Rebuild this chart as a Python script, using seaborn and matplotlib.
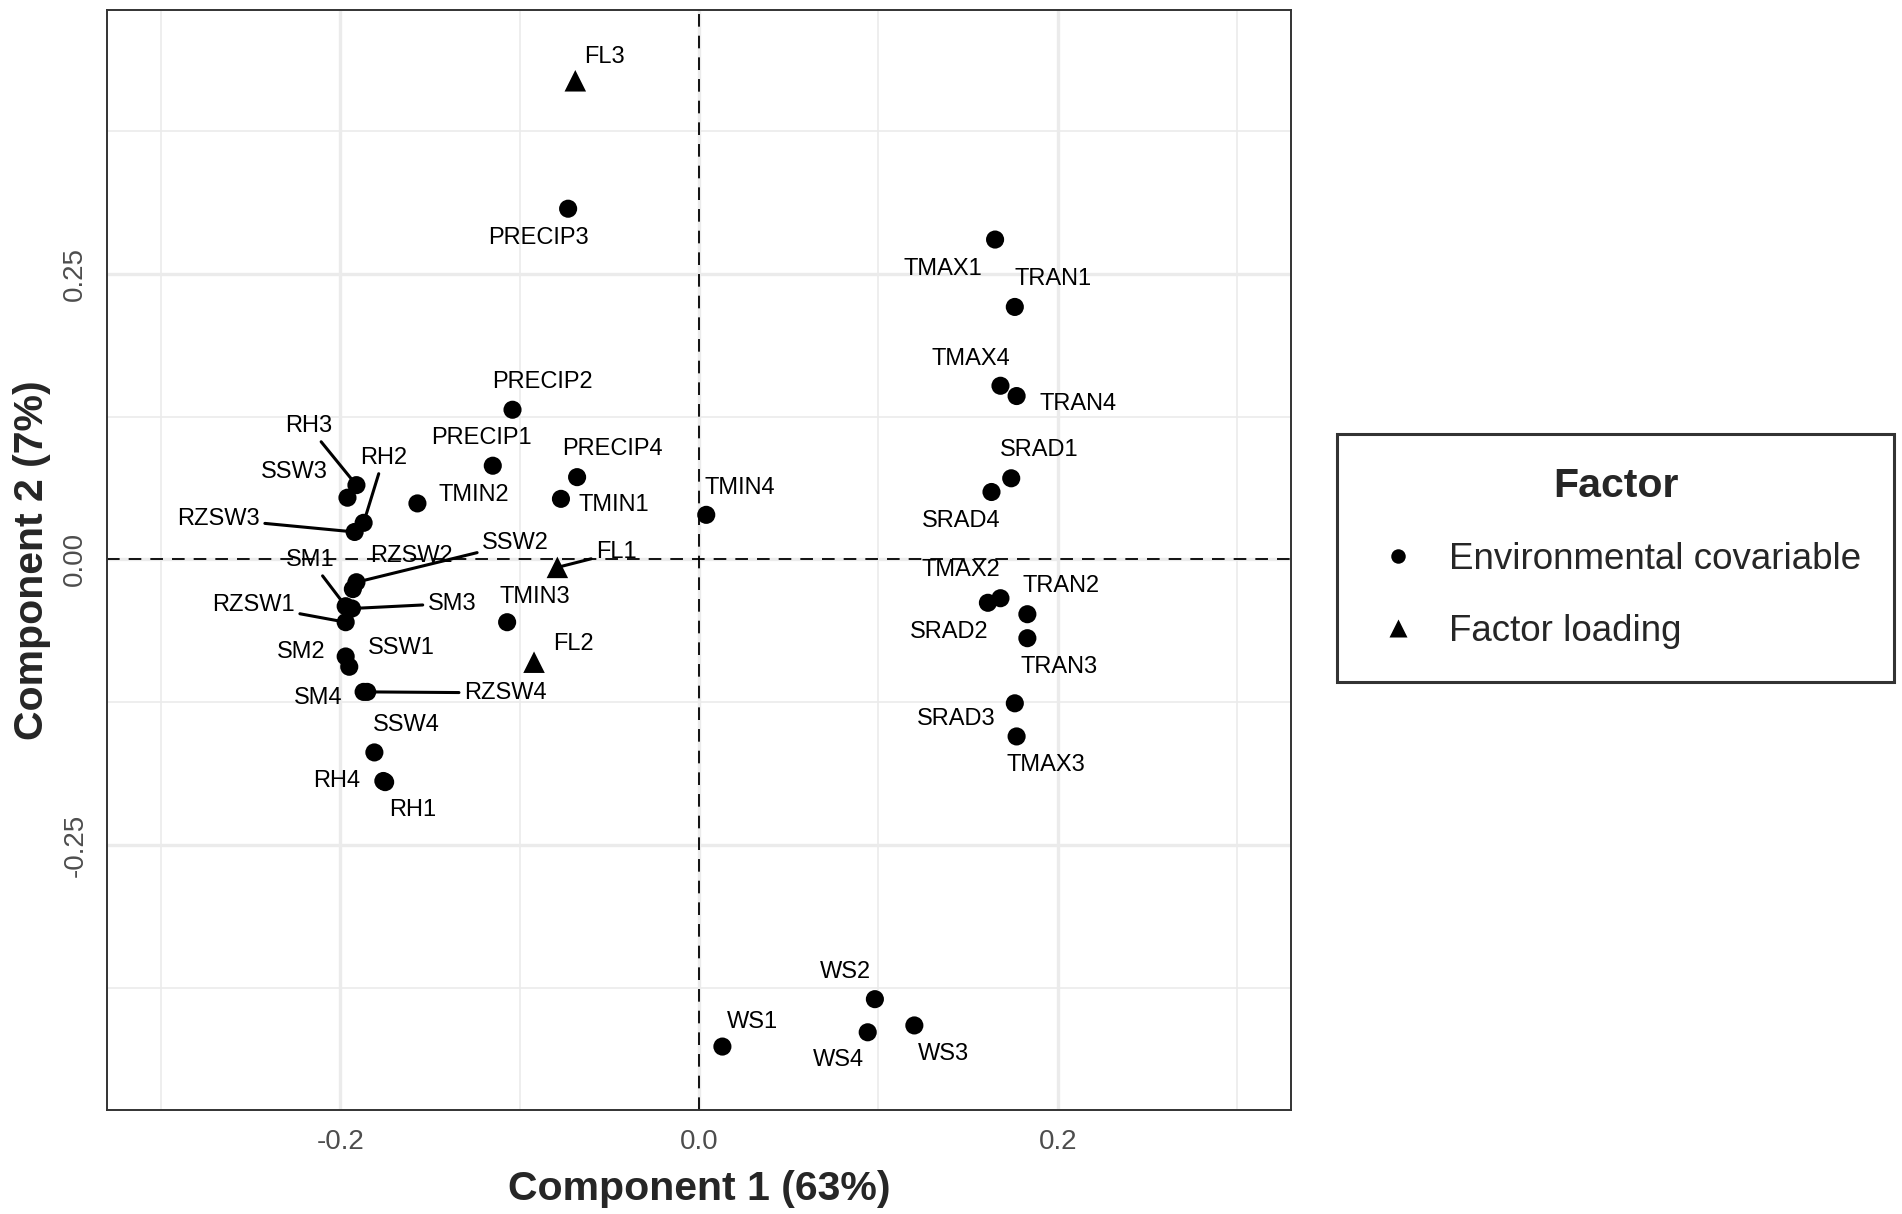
import numpy as np
import pandas as pd
import matplotlib
matplotlib.use("Agg")
import matplotlib.pyplot as plt
import seaborn as sns
from matplotlib.ticker import MultipleLocator, FormatStrFormatter

# loadings
labels = ["FL3", "PRECIP3", "PRECIP2", "PRECIP1", "PRECIP4", "TMIN1", "TMIN2",
          "RH3", "SSW3", "RH2", "RZSW3", "SSW2", "RZSW2", "SM1", "SM3", "RZSW1",
          "SM2", "SSW1", "SM4", "RZSW4", "SSW4", "RH4", "RH1", "TMIN3", "FL2", "FL1",
          "TMIN4", "TMAX1", "TRAN1", "TMAX4", "TRAN4", "SRAD1", "SRAD4", "TMAX2",
          "TRAN2", "SRAD2", "TRAN3", "SRAD3", "TMAX3", "WS2", "WS1", "WS4", "WS3"]
comp1 = [-0.069, -0.073, -0.104, -0.115, -0.068, -0.077, -0.157,
         -0.191, -0.196, -0.187, -0.192, -0.191, -0.193, -0.197, -0.1935, -0.197,
         -0.197, -0.195, -0.187, -0.185, -0.181, -0.176, -0.175, -0.107, -0.092, -0.079,
         0.004, 0.165, 0.176, 0.168, 0.177, 0.174, 0.163, 0.168,
         0.183, 0.161, 0.183, 0.176, 0.177, 0.098, 0.013, 0.094, 0.120]
comp2 = [0.419, 0.307, 0.131, 0.082, 0.072, 0.053, 0.049,
         0.065, 0.054, 0.032, 0.024, -0.020, -0.026, -0.041, -0.043, -0.055,
         -0.085, -0.094, -0.116, -0.116, -0.169, -0.194, -0.195, -0.055, -0.090, -0.007,
         0.039, 0.280, 0.221, 0.152, 0.143, 0.071, 0.059, -0.034,
         -0.048, -0.038, -0.069, -0.126, -0.155, -0.385, -0.4265, -0.414, -0.408]
factor = ["Factor loading"] + ["Environmental covariable"] * 23 + ["Factor loading"] * 2 + \
         ["Environmental covariable"] * 17

df = pd.DataFrame({"label": labels, "comp1": comp1, "comp2": comp2, "Factor": factor})

# label placement (pixel offsets from the point, y pointing down) - layout only
offsets = {
    "FL3": (29, -24), "PRECIP3": (-30, 29), "PRECIP2": (30, -28), "PRECIP1": (-11, -28),
    "PRECIP4": (35, -28), "TMIN1": (53, 6), "TMIN2": (56, -8), "RH3": (-48, -59),
    "SSW3": (-53, -26), "RH2": (20, -65), "RZSW3": (-136, -13), "SSW2": (159, -39),
    "RZSW2": (59, -33), "SM1": (-35, -46), "SM3": (100, -5), "RZSW1": (-92, -17),
    "SM2": (-44, -4), "SSW1": (52, -19), "SM4": (-45, 6), "RZSW4": (138, 1),
    "SSW4": (32, -27), "RH4": (-47, 0), "RH1": (28, 28), "TMIN3": (28, -25),
    "FL2": (39, -18), "FL1": (59, -15), "TMIN4": (34, -27), "TMAX1": (-52, 29),
    "TRAN1": (38, -28), "TMAX4": (-30, -27), "TRAN4": (61, 8), "SRAD1": (28, -28),
    "SRAD4": (-30, 29), "TMAX2": (-40, -28), "TRAN2": (34, -28), "SRAD2": (-39, 29),
    "TRAN3": (32, 29), "SRAD3": (-59, 16), "TMAX3": (29, 29), "WS2": (-29, -27),
    "WS1": (30, -25), "WS4": (-29, 28), "WS3": (29, 29),
}
with_segment = {"RH3", "RH2", "RZSW3", "SSW2", "SM1", "SM3", "RZSW1", "RZSW4", "FL1"}

sns.set_style("white")
plt.rcParams["font.family"] = ["Liberation Sans", "DejaVu Sans"]
plt.rcParams["axes.unicode_minus"] = False

fig = plt.figure(figsize=(19.02, 12.14), dpi=100)
ax = fig.add_axes([0.0563, 0.0857, 0.6225, 0.9061])

ax.axhline(0, color="black", ls=(0, (7, 5)), lw=1.3, zorder=1.5)
ax.axvline(0, color="black", ls=(0, (7, 5)), lw=1.3, zorder=1.5)

order = ["Environmental covariable", "Factor loading"]
sns.scatterplot(data=df, x="comp1", y="comp2", style="Factor", size="Factor",
                style_order=order, size_order=order,
                markers={"Environmental covariable": "o", "Factor loading": "^"},
                sizes={"Environmental covariable": 170, "Factor loading": 240},
                color="black", edgecolor="none", ax=ax, zorder=3)

for lab, x, y in zip(labels, comp1, comp2):
    dx, dy = offsets[lab]
    kw = {}
    if lab in with_segment:
        kw["arrowprops"] = dict(arrowstyle="-", color="black", lw=2.2,
                                shrinkA=1, shrinkB=0)
    ax.annotate(lab, xy=(x, y), xytext=(dx, -dy), textcoords="offset pixels",
                ha="center", va="center", fontsize=17, color="black", zorder=4,
                bbox=dict(boxstyle="square,pad=0.15", fc="none", ec="none"), **kw)

ax.set_xlim(-0.33, 0.33)
ax.set_ylim(-0.482, 0.481)
ax.xaxis.set_major_locator(MultipleLocator(0.2))
ax.xaxis.set_minor_locator(MultipleLocator(0.1))
ax.yaxis.set_major_locator(MultipleLocator(0.25))
ax.yaxis.set_minor_locator(MultipleLocator(0.125))
ax.xaxis.set_major_formatter(FormatStrFormatter("%.1f"))
ax.yaxis.set_major_formatter(FormatStrFormatter("%.2f"))
ax.set_axisbelow(True)
ax.grid(which="major", color="#EBEBEB", lw=2.4)
ax.grid(which="minor", color="#EBEBEB", lw=1.2)
ax.tick_params(which="major", length=6.5, width=1.8, color="#333333",
               labelsize=20, labelcolor="#4D4D4D", pad=7)
ax.tick_params(which="minor", length=0)
for t in ax.get_yticklabels():
    t.set_rotation(90)
    t.set_va("center")
for sp in ax.spines.values():
    sp.set_color("#333333")
    sp.set_linewidth(1.4)

ax.set_xlabel("Component 1 (63%)", fontsize=29.5, fontweight="bold")
ax.set_ylabel("Component 2 (7%)", fontsize=29.5, fontweight="bold")
ax.xaxis.set_label_coords(0.5, -0.055)
ax.yaxis.set_label_coords(-0.047, 0.5)

handles, labs = ax.get_legend_handles_labels()
ax.get_legend().remove()
leg = fig.legend(handles, labs, title="Factor", loc="center",
                 bbox_to_anchor=(0.8494, 0.5404), frameon=True, fancybox=False,
                 fontsize=26.5, title_fontproperties={"weight": "bold", "size": 29.5},
                 borderpad=0.9, handlelength=1.55, handletextpad=0.6,
                 labelspacing=1.0, markerscale=0.8, edgecolor="black")
leg.get_frame().set_linewidth(2.2)

fig.savefig("out.png", dpi=100)
